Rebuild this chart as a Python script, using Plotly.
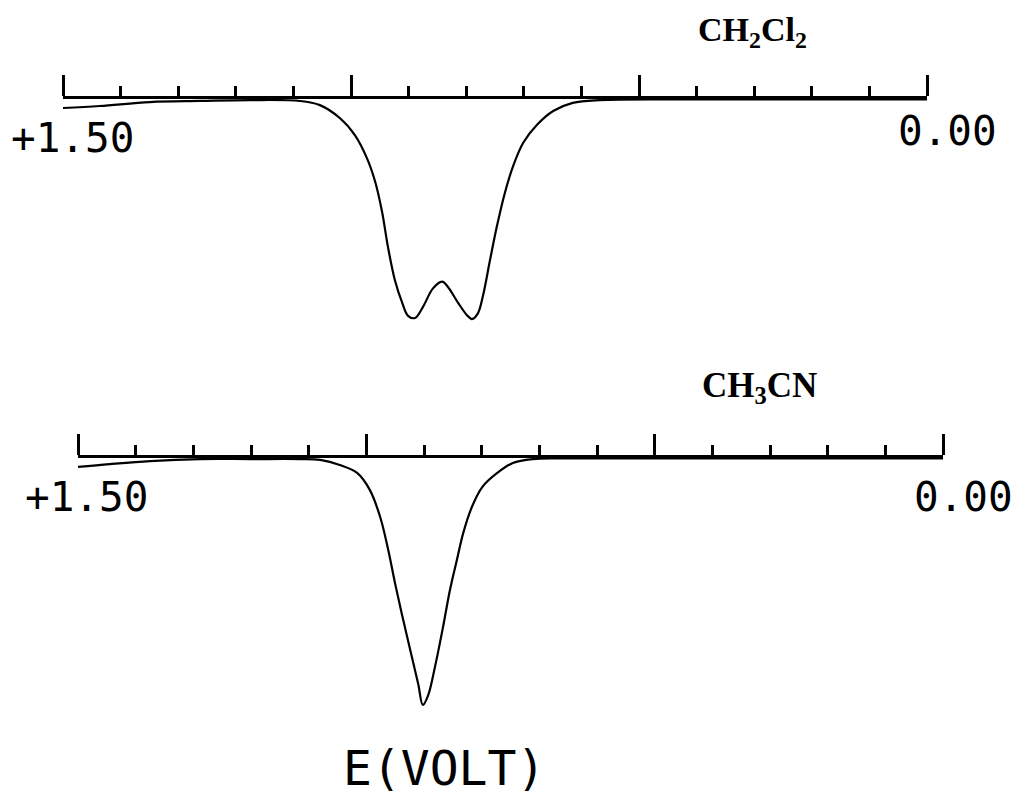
import plotly.graph_objects as go

# Potential (V) and current (arbitrary units, cathodic downward)
e_ch2cl2 = [1.500, 1.436, 1.349, 1.262, 1.175, 1.089, 1.054, 1.019, 0.993, 0.972, 0.958,
            0.946, 0.936, 0.924, 0.911, 0.901, 0.889, 0.875, 0.858, 0.842, 0.832, 0.814,
            0.799, 0.790, 0.780, 0.771, 0.759, 0.747, 0.733, 0.719, 0.701, 0.677, 0.649,
            0.615, 0.568, 0.394, 0.220, 0.000]
i_ch2cl2 = [-0.041, -0.032, -0.014, -0.009, -0.005, -0.009, -0.028, -0.088, -0.166, -0.272, -0.378,
            -0.516, -0.673, -0.825, -0.931, -0.990, -1.000, -0.949, -0.866, -0.834, -0.857, -0.931,
            -0.986, -1.005, -0.980, -0.900, -0.740, -0.585, -0.430, -0.310, -0.200, -0.118, -0.055,
            -0.018, -0.005, -0.002, -0.002, -0.002]

e_ch3cn = [1.500, 1.445, 1.375, 1.288, 1.202, 1.115, 1.080, 1.046, 1.016, 0.994, 0.976,
           0.962, 0.950, 0.936, 0.921, 0.910, 0.902, 0.893, 0.881, 0.867, 0.855, 0.843,
           0.832, 0.817, 0.799, 0.773, 0.746, 0.711, 0.664, 0.421, 0.000]
i_ch3cn = [-0.041, -0.028, -0.014, -0.005, -0.005, -0.005, -0.009, -0.032, -0.069, -0.147, -0.272,
           -0.424, -0.580, -0.747, -0.917, -1.041, -1.138, -1.095, -0.963, -0.779, -0.608, -0.470,
           -0.346, -0.226, -0.134, -0.069, -0.023, -0.005, -0.002, -0.002, -0.002]

x_range = [1.5, 0.0]
end_labels = ["+1.50", "0.00"]
solvents = ["CH<sub>2</sub>Cl<sub>2</sub>", "CH<sub>3</sub>CN"]
x_title = "E(VOLT)"

W, H = 1013, 797
def px(x):
    return x / W
def py(y):
    return 1 - y / H

fig = go.Figure()
fig.add_trace(go.Scatter(x=e_ch2cl2, y=i_ch2cl2, mode="lines", xaxis="x", yaxis="y",
                         line=dict(color="black", width=2.2, shape="spline", smoothing=1.0),
                         showlegend=False, hoverinfo="skip"))
fig.add_trace(go.Scatter(x=e_ch3cn, y=i_ch3cn, mode="lines", xaxis="x2", yaxis="y2",
                         line=dict(color="black", width=2.2, shape="spline", smoothing=1.0),
                         showlegend=False, hoverinfo="skip"))

def xax(domain, anchor):
    return dict(domain=domain, anchor=anchor, range=x_range, side="top",
                showline=True, linecolor="black", linewidth=3,
                ticks="outside", tickmode="linear", tick0=0, dtick=0.5,
                ticklen=21, tickwidth=2.5, tickcolor="black",
                minor=dict(ticks="outside", dtick=0.1, tick0=0, ticklen=10,
                           tickwidth=2.5, tickcolor="black", showgrid=False),
                showticklabels=False, showgrid=False, zeroline=False, fixedrange=True)

def yax(domain, rng):
    return dict(domain=domain, range=rng, visible=False, showgrid=False,
                zeroline=False, fixedrange=True)

top0, top_scale = 99, 219
bot0, bot_scale = 458, 217
fig.update_layout(
    width=W, height=H,
    margin=dict(l=0, r=0, t=0, b=0),
    paper_bgcolor="white", plot_bgcolor="rgba(0,0,0,0)",
    xaxis=xax([px(63), px(927)], "y"),
    xaxis2=xax([px(78), px(943)], "y2"),
    yaxis=yax([py(top0 + 1.1 * top_scale), py(top0)], [-1.1, 0]),
    yaxis2=yax([py(bot0 + 1.25 * bot_scale), py(bot0)], [-1.25, 0]),
)

mono = dict(family="DejaVu Sans Mono", size=41, color="black")
serif = dict(family="Liberation Serif", size=34, color="black", weight="bold")
ann = [
    (72, 138, end_labels[0], mono),
    (947, 131, end_labels[1], mono),
    (86, 497, end_labels[0], mono),
    (963, 497, end_labels[1], mono),
    (752, 32, solvents[0], serif),
    (759, 387, solvents[1], dict(serif, size=35)),
    (444, 768, x_title, dict(family="DejaVu Sans Mono", size=48, color="black")),
]
for x, y, t, f in ann:
    fig.add_annotation(x=px(x), y=py(y), xref="paper", yref="paper", text=t,
                       showarrow=False, font=f, xanchor="center", yanchor="middle")

fig.write_html("out.html")
